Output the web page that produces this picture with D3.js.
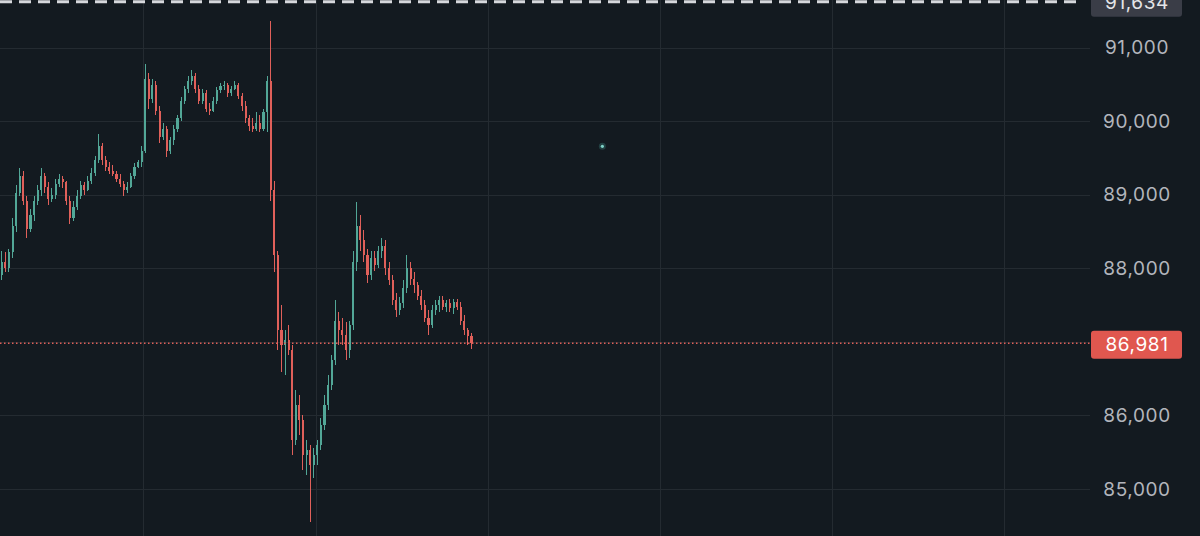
<!DOCTYPE html>
<html>
<head>
<meta charset="utf-8">
<script src="https://cdn.jsdelivr.net/npm/d3@7"></script>
<style>
  html, body { margin: 0; padding: 0; background: #131a20; overflow: hidden; }
  svg { display: block; }
</style>
</head>
<body>
<div id="chart"></div>
<script>
// ======= DATA =======

const candleStart = "2025-12-08T04:00:00Z";   // first 30-min bar
const viewEnd = "2025-12-14T12:00:00Z";       // right edge of the time axis
const candleMinutes = 30;

// one row per bar: [open, high, low, close]
const candles = [
  [87910, 88240, 87840, 88080], [88080, 88220, 87950, 88000], [88000, 88270, 87950, 88220],
  [88220, 88680, 88140, 88580], [88580, 89130, 88490, 89030], [89030, 89360, 88980, 89260],
  [89260, 89330, 88860, 88920], [88920, 88990, 88410, 88540], [88540, 88810, 88490, 88720],
  [88720, 88990, 88650, 88920], [88920, 89130, 88860, 89060], [89060, 89360, 88990, 89260],
  [89260, 89300, 89030, 89110], [89110, 89170, 88860, 88950], [88950, 89090, 88900, 89000],
  [89000, 89220, 88950, 89150], [89150, 89280, 89110, 89210], [89210, 89260, 89090, 89170],
  [89170, 89190, 88860, 88910], [88910, 88980, 88600, 88680], [88680, 88920, 88640, 88840],
  [88840, 89060, 88800, 88990], [88990, 89190, 88950, 89140], [89140, 89170, 89000, 89070],
  [89070, 89250, 89050, 89190], [89190, 89360, 89150, 89300], [89300, 89530, 89260, 89470],
  [89470, 89830, 89430, 89670], [89670, 89710, 89400, 89470], [89470, 89530, 89330, 89380],
  [89380, 89440, 89280, 89330], [89330, 89400, 89250, 89290], [89290, 89330, 89170, 89220],
  [89220, 89280, 89100, 89150], [89150, 89190, 88980, 89060], [89060, 89170, 89020, 89110],
  [89110, 89300, 89090, 89260], [89260, 89430, 89220, 89380], [89380, 89470, 89360, 89440],
  [89440, 89670, 89380, 89600], [89600, 90780, 89570, 90580], [90580, 90660, 90170, 90310],
  [90310, 90580, 90250, 90500], [90500, 90550, 90080, 90140], [90140, 90210, 89710, 89790],
  [89790, 89980, 89740, 89900], [89900, 89940, 89510, 89600], [89600, 89790, 89560, 89740],
  [89740, 89950, 89680, 89900], [89900, 90090, 89860, 90040], [90040, 90330, 90000, 90280],
  [90280, 90480, 90230, 90440], [90440, 90610, 90390, 90550], [90550, 90700, 90500, 90620],
  [90620, 90660, 90390, 90440], [90440, 90500, 90230, 90280], [90280, 90440, 90240, 90380],
  [90380, 90420, 90120, 90170], [90170, 90250, 90090, 90140], [90140, 90330, 90120, 90280],
  [90280, 90470, 90240, 90420], [90420, 90520, 90380, 90480], [90480, 90550, 90420, 90500],
  [90500, 90520, 90330, 90390], [90390, 90480, 90350, 90440], [90440, 90550, 90420, 90500],
  [90500, 90520, 90310, 90350], [90350, 90390, 90140, 90210], [90210, 90280, 89980, 90040],
  [90040, 90080, 89870, 89940], [89940, 90040, 89860, 89900], [89900, 90120, 89870, 89980],
  [89980, 90080, 89850, 89900], [89900, 90170, 89870, 90120], [90120, 90620, 89850, 90550],
  [90550, 91370, 88920, 89060], [89060, 89190, 87950, 88180], [88180, 88240, 86890, 87160],
  [87160, 87500, 86590, 86960], [86960, 87160, 86550, 87020], [87020, 87230, 86820, 86890],
  [86890, 86960, 85460, 85670], [85670, 86340, 85600, 86140], [86140, 86280, 85730, 85940],
  [85940, 86000, 85260, 85460], [85460, 85670, 85190, 85530], [85530, 85600, 84550, 85330],
  [85330, 85560, 85150, 85460], [85460, 85670, 85330, 85600], [85600, 85960, 85530, 85870],
  [85870, 86280, 85800, 86140], [86140, 86550, 86070, 86410], [86410, 86820, 86340, 86750],
  [86750, 87570, 86680, 87290], [87290, 87400, 86960, 87160], [87160, 87320, 86960, 87090],
  [87090, 87270, 86750, 86890], [86890, 87290, 86780, 87230], [87230, 88240, 87160, 88080],
  [88080, 88900, 87970, 88580], [88580, 88720, 88240, 88380], [88380, 88520, 88080, 88180],
  [88180, 88270, 87800, 87910], [87910, 88240, 87840, 88140], [88140, 88240, 87970, 88040],
  [88040, 88310, 88000, 88240], [88240, 88410, 88140, 88310], [88310, 88380, 87910, 88000],
  [88000, 88080, 87770, 87840], [87840, 87910, 87500, 87570], [87570, 87670, 87340, 87430],
  [87430, 87610, 87360, 87530], [87530, 87840, 87460, 87730], [87730, 88180, 87670, 88000],
  [88000, 88080, 87770, 87860], [87860, 87950, 87670, 87770], [87770, 87810, 87570, 87630],
  [87630, 87700, 87430, 87500], [87500, 87570, 87270, 87320], [87320, 87430, 87090, 87230],
  [87230, 87500, 87190, 87430], [87430, 87570, 87360, 87500], [87500, 87630, 87400, 87570],
  [87570, 87620, 87430, 87480], [87480, 87570, 87400, 87530], [87530, 87590, 87400, 87460],
  [87460, 87590, 87380, 87540], [87540, 87590, 87430, 87480], [87480, 87540, 87230, 87290],
  [87290, 87360, 87090, 87160], [87160, 87190, 86960, 87080], [87080, 87120, 86910, 86981]
];

const priceTicks = [85000, 86000, 87000, 88000, 89000, 90000, 91000];
const lastPrice = 86981;
const highMark = 91634;
const markerTime = "2025-12-11T16:00:00Z";
const markerPrice = 89660;

const upColor = "#52a797";
const downColor = "#e0605a";

// ======= SVG SETUP =======

const width = 1200;
const height = 536;
const plotW = 1090;

const svg = d3.select("#chart")
  .append("svg")
  .attr("width", width)
  .attr("height", height);

svg.append("rect")
  .attr("width", width)
  .attr("height", height)
  .attr("fill", "#131a20");

const t0 = new Date(candleStart);
const step = candleMinutes * 60 * 1000;
const rows = candles.map((c, i) => ({
  t: new Date(t0.getTime() + i * step),
  o: c[0], h: c[1], l: c[2], c: c[3]
}));

const x = d3.scaleUtc()
  .domain([t0, new Date(viewEnd)])
  .range([0, plotW]);

const y = d3.scaleLinear()
  .domain([84360, 91650])
  .range([height, 0]);

// ======= GRID =======

const grid = svg.append("g").attr("class", "grid");

grid.selectAll(".hgrid")
  .data(priceTicks)
  .join("line")
  .attr("x1", 0)
  .attr("x2", plotW)
  .attr("y1", d => Math.round(y(d)) + 0.5)
  .attr("y2", d => Math.round(y(d)) + 0.5)
  .attr("stroke", "#242b31")
  .attr("stroke-width", 1);

grid.selectAll(".vgrid")
  .data(x.ticks(d3.utcDay.every(1)))
  .join("line")
  .attr("x1", d => Math.round(x(d)) + 0.5)
  .attr("x2", d => Math.round(x(d)) + 0.5)
  .attr("y1", 0)
  .attr("y2", height)
  .attr("stroke", "#242b31")
  .attr("stroke-width", 1);

// ======= CANDLES =======

const barW = x(new Date(t0.getTime() + step)) - x(t0);
const bodyW = Math.max(1, barW - 1.5);

const bars = svg.append("g")
  .attr("class", "candles")
  .attr("shape-rendering", "crispEdges")
  .selectAll("g")
  .data(rows)
  .join("g")
  .attr("fill", d => d.c >= d.o ? upColor : downColor)
  .attr("stroke", d => d.c >= d.o ? upColor : downColor);

bars.append("line")
  .attr("x1", d => x(d.t) + barW / 2)
  .attr("x2", d => x(d.t) + barW / 2)
  .attr("y1", d => y(d.h))
  .attr("y2", d => y(d.l))
  .attr("stroke-width", 1);

bars.append("rect")
  .attr("x", d => x(d.t) + (barW - bodyW) / 2)
  .attr("width", bodyW)
  .attr("y", d => y(Math.max(d.o, d.c)))
  .attr("height", d => Math.max(1, Math.abs(y(d.o) - y(d.c))))
  .attr("stroke", "none");

// lone marker dot
svg.append("circle")
  .attr("cx", x(new Date(markerTime)))
  .attr("cy", y(markerPrice))
  .attr("r", 3.5)
  .attr("fill", "#4fb3a8")
  .attr("opacity", 0.25);
svg.append("circle")
  .attr("cx", x(new Date(markerTime)))
  .attr("cy", y(markerPrice))
  .attr("r", 1.6)
  .attr("fill", "#7fd3c8");

// ======= PRICE LINES =======

svg.append("line")
  .attr("x1", 0)
  .attr("x2", plotW - 8)
  .attr("y1", y(highMark) + 0.5)
  .attr("y2", y(highMark) + 0.5)
  .attr("stroke", "#d6d8dc")
  .attr("stroke-width", 3)
  .attr("stroke-dasharray", "12 7");

svg.append("line")
  .attr("x1", 0)
  .attr("x2", plotW)
  .attr("y1", y(lastPrice))
  .attr("y2", y(lastPrice))
  .attr("stroke", downColor)
  .attr("stroke-width", 1.5)
  .attr("stroke-dasharray", "1.5 2.5");

// ======= Y AXIS =======

const labelX = 1137;
const fontFamily = "Inter, 'Noto Sans', sans-serif";

// a tick label that would sit under the last-price badge is hidden, like the terminal does
const shownTicks = priceTicks.filter(v => Math.abs(y(v) - y(lastPrice)) > 22);

const yAxis = d3.axisRight(y)
  .tickValues(shownTicks)
  .tickFormat(d3.format(","))
  .tickSize(0)
  .tickPadding(0);

const axisG = svg.append("g")
  .attr("transform", `translate(${labelX},0)`)
  .call(yAxis);

axisG.select(".domain").remove();
axisG.selectAll("text")
  .attr("text-anchor", "middle")
  .attr("fill", "#b2b5bc")
  .style("font-family", fontFamily)
  .style("font-size", "19px")
  .style("letter-spacing", "0.6px");

function priceBadge(value, fill, textFill) {
  const cy = y(value) + 1.5;
  const b = svg.append("g");
  b.append("rect")
    .attr("x", 1091)
    .attr("y", cy - 14)
    .attr("width", 91)
    .attr("height", 28)
    .attr("rx", 3)
    .attr("fill", fill);
  b.append("text")
    .attr("x", labelX)
    .attr("y", cy)
    .attr("dy", "0.35em")
    .attr("text-anchor", "middle")
    .attr("fill", textFill)
    .style("font-family", fontFamily)
    .style("font-size", "19px")
    .style("letter-spacing", "0.6px")
    .text(d3.format(",")(value));
}

priceBadge(highMark, "#3a3d47", "#e4e5e8");
priceBadge(lastPrice, "#e0574f", "#ffffff");
</script>
</body>
</html>
